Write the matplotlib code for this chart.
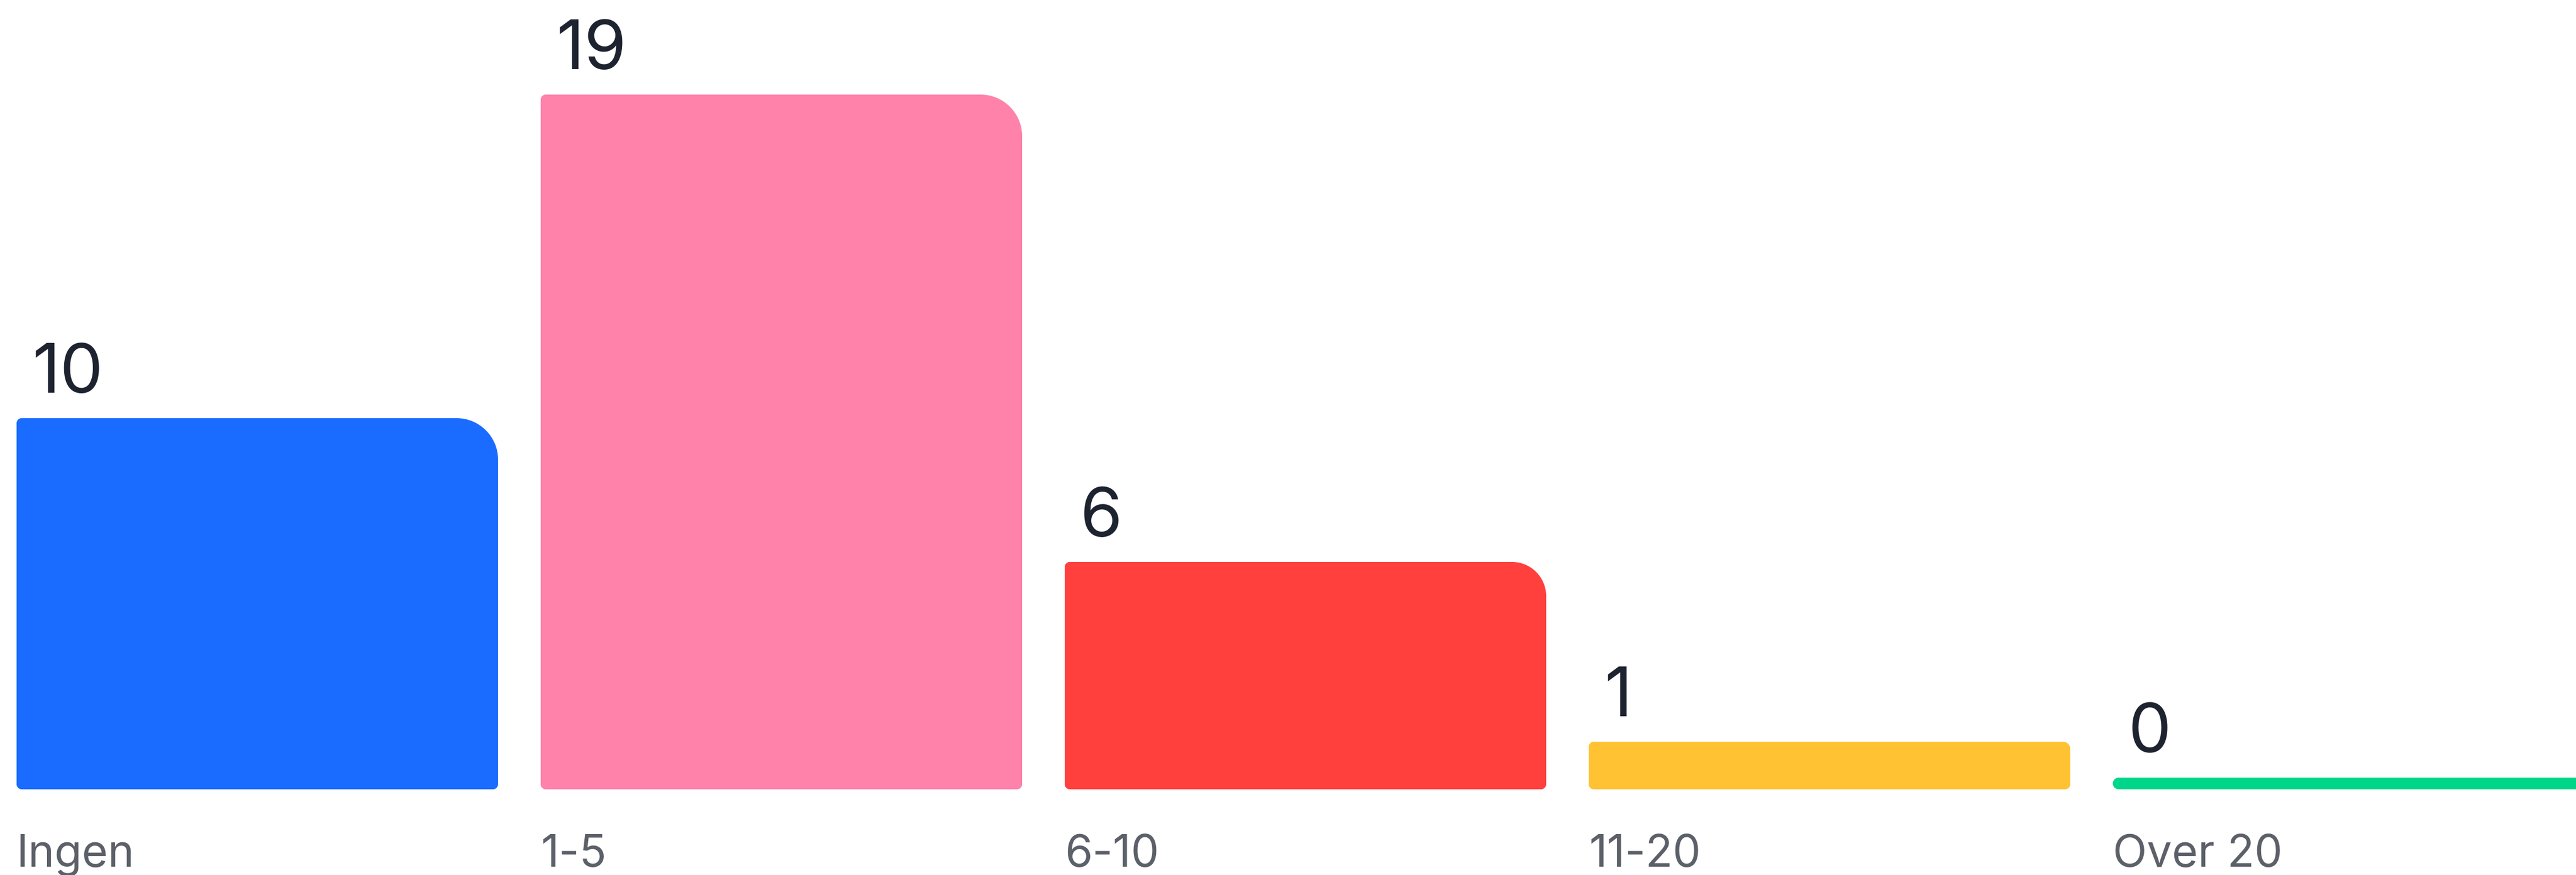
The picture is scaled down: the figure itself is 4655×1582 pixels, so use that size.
import numpy as np
import matplotlib.pyplot as plt
from matplotlib.path import Path
from matplotlib.patches import PathPatch

# Data
categories = ['Ingen', '1-5', '6-10', '11-20', 'Over 20']
counts = [10, 19, 6, 1, 0]
colors = ['#1a6bff', '#ff82ab', '#ff403d', '#ffc233', '#00d68a']

plt.rcParams['font.family'] = ['Inter', 'DejaVu Sans']

W, H, DPI = 4655, 1582, 100
fig = plt.figure(figsize=(W / DPI, H / DPI), dpi=DPI)
ax = fig.add_axes([0, 0, 1, 1])
ax.axis('off')

# scale: pixels per category slot and per count
px_x = 947
px_y = 65
width = 870 / px_x
stub = 21 / px_y          # zero bars still get a thin visible stub
x_left = -width / 2 - 30 / px_x
y_low = -176 / px_y
ax.set_xlim(x_left, x_left + W / px_x)
ax.set_ylim(y_low, y_low + H / px_y)

xpos = np.arange(len(categories))
bars = ax.bar(xpos, np.array(counts) + stub, width=width, bottom=-stub, color=colors)


def rounded_rect(x0, y0, x1, y1, r_bl, r_br, r_tr, r_tl):
    # radii are in pixels, converted to data units per axis
    k = 0.5523
    dx, dy = 1 / px_x, 1 / px_y
    C = Path.CURVE4
    verts = [(x0 + r_bl * dx, y0), (x1 - r_br * dx, y0),
             (x1 - r_br * dx * (1 - k), y0), (x1, y0 + r_br * dy * (1 - k)), (x1, y0 + r_br * dy),
             (x1, y1 - r_tr * dy),
             (x1, y1 - r_tr * dy * (1 - k)), (x1 - r_tr * dx * (1 - k), y1), (x1 - r_tr * dx, y1),
             (x0 + r_tl * dx, y1),
             (x0 + r_tl * dx * (1 - k), y1), (x0, y1 - r_tl * dy * (1 - k)), (x0, y1 - r_tl * dy),
             (x0, y0 + r_bl * dy),
             (x0, y0 + r_bl * dy * (1 - k)), (x0 + r_bl * dx * (1 - k), y0), (x0 + r_bl * dx, y0),
             (x0 + r_bl * dx, y0)]
    codes = [Path.MOVETO, Path.LINETO, C, C, C, Path.LINETO, C, C, C,
             Path.LINETO, C, C, C, Path.LINETO, C, C, C, Path.CLOSEPOLY]
    return Path(verts, codes)


for bar, v, cat in zip(bars, counts, categories):
    bar.set_visible(False)
    x0, y0 = bar.get_x(), bar.get_y()
    x1, y1 = x0 + bar.get_width(), y0 + bar.get_height()
    h_px = bar.get_height() * px_y
    r_small = h_px / 2 if h_px < 30 else 9
    r_big = max(r_small, min(75, 0.15 * h_px))
    path = rounded_rect(x0, y0, x1, y1, r_small, r_small, r_big, r_small)
    ax.add_patch(PathPatch(path, facecolor=bar.get_facecolor(), edgecolor='none'))

    ax.annotate(str(v), xy=(x0, v), xytext=(28, 46), textcoords='offset pixels',
                fontsize=89, color='#1e2330', ha='left', va='baseline')
    ax.annotate(cat, xy=(x0, y_low), xytext=(0, 15), textcoords='offset pixels',
                fontsize=58, color='#5c6069', ha='left', va='baseline')

fig.savefig('out.png', dpi=DPI, facecolor='white')
